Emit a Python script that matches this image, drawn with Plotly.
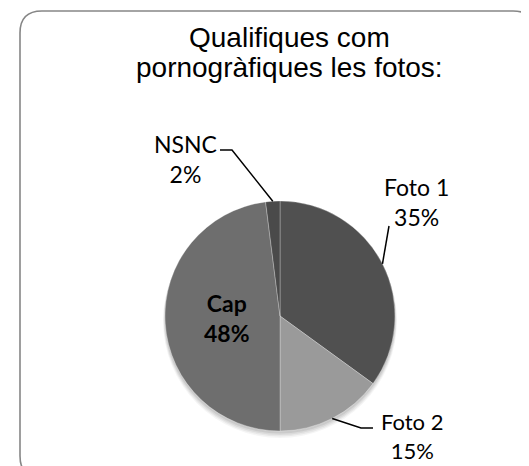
import math
import plotly.graph_objects as go

# ---- data ----
labels = ["Foto 1", "Foto 2", "Cap", "NSNC"]
values = [35, 15, 48, 2]
colors = ["#505050", "#9a9a9a", "#6e6e6e", "#4a4a4a"]
title_lines = ["Qualifiques com", "pornogràfiques les fotos:"]

W, H = 529, 466
CX, CY, R = 272, 308, 115  # pie centre / radius in pixels


def px(x):
    return x / W


def py(y):
    return 1 - y / H


fig = go.Figure()
fig.add_trace(go.Pie(
    labels=labels, values=values, sort=False, direction="clockwise", rotation=0,
    marker=dict(colors=colors, line=dict(color="rgba(255,255,255,0.35)", width=0.8)),
    textinfo="none", hoverinfo="label+percent", showlegend=False,
    domain=dict(x=[px(CX - R), px(CX + R)], y=[py(CY + R), py(CY - R)]),
))

# soft shadow under the pie (mostly towards the bottom)
shapes = []
for i, op in enumerate([0.04, 0.05, 0.06, 0.07]):
    rr = R + 2 - i * 0.5
    off = 5 - i
    shapes.append(dict(type="circle", xref="paper", yref="paper", layer="below",
                       x0=px(CX - rr), x1=px(CX + rr),
                       y0=py(CY + off + rr), y1=py(CY + off - rr),
                       fillcolor=f"rgba(0,0,0,{op})", line=dict(width=0)))

# label layout: (label block centre x/y, font size, leader elbow points)
label_layout = {
    "Foto 1": dict(cx=408, cy=194, size=23, bold=False, leader=[(381, 218)]),
    "Foto 2": dict(cx=404, cy=428, size=22, bold=False, leader=[(353, 420), (365, 420)]),
    "Cap": dict(cx=219, cy=310, size=23, bold=True, leader=None),
    "NSNC": dict(cx=177, cy=151, size=23, bold=False, leader=[(224, 142), (212, 142)]),
}

total = sum(values)
start = 0.0
annotations = []
for lab, v in zip(labels, values):
    frac = v / total
    mid = (start + frac / 2) * 2 * math.pi
    start += frac
    ex = CX + R * math.sin(mid)
    ey = CY - R * math.cos(mid)
    L = label_layout[lab]
    txt = f"{lab}<br>{round(frac * 100)}%"
    annotations.append(dict(
        x=px(L["cx"]), y=py(L["cy"]), xref="paper", yref="paper", showarrow=False,
        text=f"<b>{txt}</b>" if L["bold"] else txt, align="center",
        font=dict(family="Lato", size=L["size"], color="#000000"),
        xanchor="center", yanchor="middle"))
    if L["leader"]:
        pts = [(ex, ey)] + L["leader"]
        path = "M " + " L ".join(f"{px(a):.5f},{py(b):.5f}" for a, b in pts)
        shapes.append(dict(type="path", xref="paper", yref="paper", path=path,
                           line=dict(color="#000000", width=1.5)))

# title (two lines, tight Excel-like spacing)
for txt, yy in zip(title_lines, [29, 59]):
    annotations.append(dict(
        x=px(281), y=py(yy), xref="paper", yref="paper", showarrow=False,
        text=txt, align="center",
        font=dict(family="Liberation Sans, Arial", size=28, color="#000000"),
        xanchor="center", yanchor="middle"))

# rounded chart border
x0, x1, y0, y1, rad = 12, 527, 3, 470, 22
border = (f"M {px(x0 + rad)},{py(y0)} L {px(x1 - rad)},{py(y0)} "
          f"Q {px(x1)},{py(y0)} {px(x1)},{py(y0 + rad)} "
          f"L {px(x1)},{py(y1 - rad)} Q {px(x1)},{py(y1)} {px(x1 - rad)},{py(y1)} "
          f"L {px(x0 + rad)},{py(y1)} Q {px(x0)},{py(y1)} {px(x0)},{py(y1 - rad)} "
          f"L {px(x0)},{py(y0 + rad)} Q {px(x0)},{py(y0)} {px(x0 + rad)},{py(y0)} Z")
shapes.append(dict(type="path", xref="paper", yref="paper", path=border,
                   line=dict(color="#868686", width=1.6), layer="below"))

fig.update_layout(
    width=W, height=H, margin=dict(l=0, r=0, t=0, b=0),
    paper_bgcolor="white", plot_bgcolor="white",
    shapes=shapes, annotations=annotations,
)
fig.write_html("out.html")
